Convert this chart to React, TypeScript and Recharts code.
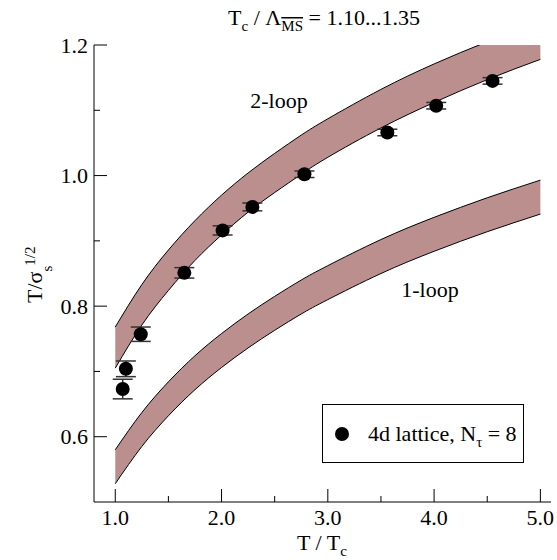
import React from 'react';
import { ComposedChart, Area, Scatter, ErrorBar, XAxis, YAxis, Legend } from 'recharts';

const bandT = [1.0, 1.25, 1.5, 1.75, 2.0, 2.25, 2.5, 2.75, 3.0, 3.5, 4.0, 4.5, 5.0];
const twoLoopLow = [0.705, 0.771, 0.824, 0.87, 0.909, 0.944, 0.974, 1.002, 1.028, 1.073, 1.112, 1.147, 1.178];
const twoLoopHigh = [0.768, 0.833, 0.886, 0.931, 0.97, 1.004, 1.034, 1.062, 1.087, 1.132, 1.171, 1.205, 1.236];
const oneLoopLow = [0.528, 0.585, 0.632, 0.672, 0.706, 0.736, 0.763, 0.788, 0.81, 0.85, 0.884, 0.914, 0.941];
const oneLoopHigh = [0.58, 0.637, 0.684, 0.724, 0.758, 0.788, 0.815, 0.84, 0.862, 0.902, 0.936, 0.966, 0.993];

// 4d lattice, N_tau = 8
const latticeT = [1.07, 1.1, 1.24, 1.65, 2.01, 2.29, 2.78, 3.56, 4.02, 4.55];
const latticeVal = [0.673, 0.704, 0.757, 0.851, 0.916, 0.952, 1.002, 1.066, 1.107, 1.145];
const latticeErr = [0.015, 0.012, 0.011, 0.008, 0.007, 0.006, 0.005, 0.005, 0.005, 0.005];

const xTicks = [1, 1.5, 2, 2.5, 3, 3.5, 4, 4.5, 5];
const yTicks = [0.6, 0.7, 0.8, 0.9, 1.0, 1.1, 1.2];

const FONT = '"Liberation Serif", "Times New Roman", serif';
const BAND = '#bc8f8f';

const bandData = bandT.map((x, i) => ({
  x,
  twoLoop: [twoLoopLow[i], twoLoopHigh[i]],
  oneLoop: [oneLoopLow[i], oneLoopHigh[i]],
}));

const latticeData = latticeT.map((x, i) => ({ x, y: latticeVal[i], err: latticeErr[i] }));

const isMajorX = (v: number) => Math.abs(v - Math.round(v)) < 1e-6;
const isMajorY = (v: number) => Math.round(v * 10) % 2 === 0;

function BottomTick(props: any) {
  const { x, y, payload } = props;
  const major = isMajorX(payload.value);
  return (
    <g>
      <line x1={x} x2={x} y1={y} y2={y - (major ? 13 : 6)} stroke="#000" />
      {major && (
        <text x={x} y={y + 23} textAnchor="middle" fontSize={22} fontFamily={FONT} fill="#000">
          {payload.value.toFixed(1)}
        </text>
      )}
    </g>
  );
}

function TopTick(props: any) {
  const { x, y, payload } = props;
  const major = isMajorX(payload.value);
  return <line x1={x} x2={x} y1={y} y2={y + (major ? 13 : 6)} stroke="#000" />;
}

function LeftTick(props: any) {
  const { x, y, payload } = props;
  const major = isMajorY(payload.value);
  return (
    <g>
      <line x1={x} x2={x + (major ? 13 : 6)} y1={y} y2={y} stroke="#000" />
      {major && (
        <text x={x - 6} y={y + 7.5} textAnchor="end" fontSize={22} fontFamily={FONT} fill="#000">
          {payload.value.toFixed(1)}
        </text>
      )}
    </g>
  );
}

function RightTick(props: any) {
  const { x, y, payload } = props;
  const major = isMajorY(payload.value);
  return <line x1={x} x2={x - (major ? 13 : 6)} y1={y} y2={y} stroke="#000" />;
}

function LatticeLegend() {
  return (
    <svg width={202} height={59} style={{ display: 'block' }}>
      <rect x={0.5} y={0.5} width={201} height={58} fill="#fff" stroke="#000" />
      <circle cx={20} cy={30} r={7} fill="#000" />
      <text x={46} y={37} fontSize={22} fontFamily={FONT} fill="#000">
        4d lattice, N
        <tspan fontSize={15} dy={6}>τ</tspan>
        <tspan dy={-6}> = 8</tspan>
      </text>
    </svg>
  );
}

export default function App() {
  return (
    <div style={{ position: 'absolute', left: 0, top: 0, width: 557, height: 560, background: '#fff' }}>
      <ComposedChart
        width={557}
        height={560}
        data={bandData}
        margin={{ top: 45, right: 6, bottom: 0, left: 0 }}
        style={{ fontFamily: FONT }}
      >
        <XAxis
          dataKey="x"
          type="number"
          domain={[0.8, 5.1]}
          ticks={xTicks}
          interval={0}
          height={58}
          tickSize={0}
          tickMargin={0}
          tickLine={false}
          tick={(p: any) => <BottomTick {...p} />}
          axisLine={{ stroke: '#000' }}
          allowDataOverflow
        />
        <XAxis
          xAxisId="top"
          orientation="top"
          type="number"
          domain={[0.8, 5.1]}
          ticks={xTicks}
          interval={0}
          height={0}
          tickSize={0}
          tickMargin={0}
          tickLine={false}
          tick={(p: any) => <TopTick {...p} />}
          axisLine={{ stroke: '#000' }}
          allowDataOverflow
        />
        <YAxis
          type="number"
          domain={[0.5, 1.2]}
          ticks={yTicks}
          interval={0}
          width={94}
          tickSize={0}
          tickMargin={0}
          tickLine={false}
          tick={(p: any) => <LeftTick {...p} />}
          axisLine={{ stroke: '#000' }}
          allowDataOverflow
        />
        <YAxis
          yAxisId="right"
          orientation="right"
          type="number"
          domain={[0.5, 1.2]}
          ticks={yTicks}
          interval={0}
          width={0}
          tickSize={0}
          tickMargin={0}
          tickLine={false}
          tick={(p: any) => <RightTick {...p} />}
          axisLine={{ stroke: '#000' }}
          allowDataOverflow
        />
        <Area
          dataKey="twoLoop"
          type="natural"
          fill={BAND}
          fillOpacity={1}
          stroke="#000"
          strokeWidth={1}
          isAnimationActive={false}
        />
        <Area
          dataKey="oneLoop"
          type="natural"
          fill={BAND}
          fillOpacity={1}
          stroke="#000"
          strokeWidth={1}
          isAnimationActive={false}
        />
        <Scatter
          data={latticeData}
          dataKey="y"
          name="4d lattice"
          isAnimationActive={false}
          shape={(p: any) => <circle cx={p.cx} cy={p.cy} r={7} fill="#000" />}
        >
          <ErrorBar dataKey="err" direction="y" width={10} stroke="#333" strokeWidth={1.5} />
        </Scatter>
        <Legend
          layout="vertical"
          align="center"
          verticalAlign="middle"
          content={() => <LatticeLegend />}
          wrapperStyle={{ left: 322, top: 404, width: 202, height: 59 }}
        />
      </ComposedChart>

      <svg
        width={557}
        height={560}
        style={{ position: 'absolute', left: 0, top: 0, pointerEvents: 'none' }}
        fontFamily={FONT}
        fill="#000"
      >
        <text x={324} y={25} textAnchor="middle" fontSize={22}>
          T<tspan fontSize={15} dy={6}>c</tspan>
          <tspan dy={-6}> / Λ</tspan>
          <tspan fontSize={15} dy={6} style={{ textDecoration: 'overline' }}>MS</tspan>
          <tspan dy={-6}> = 1.10...1.35</tspan>
        </text>
        <text x={322} y={550} textAnchor="middle" fontSize={22}>
          T / T<tspan fontSize={15} dy={6}>c</tspan>
        </text>
        <text x={-303} y={42} transform="rotate(-90)" fontSize={22}>
          T/σ<tspan fontSize={15} dy={10}>s</tspan>
          <tspan fontSize={15} dy={-17}>1/2</tspan>
        </text>
        <text x={279} y={108} textAnchor="middle" fontSize={22}>2-loop</text>
        <text x={430} y={297} textAnchor="middle" fontSize={22}>1-loop</text>
      </svg>
    </div>
  );
}
